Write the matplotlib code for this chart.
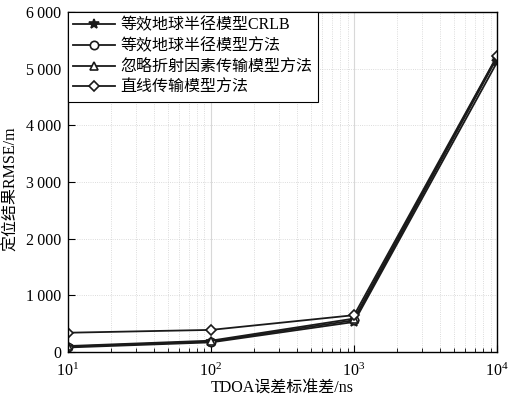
import matplotlib
matplotlib.use("Agg")
import matplotlib.pyplot as plt
from matplotlib.ticker import FuncFormatter, LogLocator, NullFormatter

plt.rcParams['font.family'] = ['Liberation Serif', 'Noto Sans CJK SC']
plt.rcParams['mathtext.fontset'] = 'custom'
plt.rcParams['mathtext.rm'] = 'Liberation Serif'

x = [10, 100, 1000, 10000]
labels = ['等效地球半径模型CRLB', '等效地球半径模型方法', '忽略折射因素传输模型方法', '直线传输模型方法']
crlb = [80, 170, 530, 5120]
equiv = [95, 185, 560, 5200]
ignore = [105, 200, 590, 5220]
straight = [340, 390, 650, 5230]
series = [crlb, equiv, ignore, straight]
markers = ['*', 'o', '^', 'D']
msizes = [7, 6, 6, 5]

fig = plt.figure(figsize=(5.1, 4.0), dpi=100)
ax = fig.add_axes([0.133, 0.12, 0.842, 0.85])

for y, lab, m, ms in zip(series, labels, markers, msizes):
    ax.plot(x, y, color='#1a1a1a', lw=1.3, marker=m, ms=ms,
            mfc='#1a1a1a' if m == '*' else 'white', mec='#1a1a1a', mew=1.2, label=lab)

ax.set_xscale('log')
ax.set_xlim(10, 10000)
ax.set_ylim(0, 6000)
ax.set_yticks([0, 1000, 2000, 3000, 4000, 5000, 6000])
ax.yaxis.set_major_formatter(FuncFormatter(lambda v, p: f"{int(v):,}".replace(',', '\u2009') if v >= 1000 else f"{int(v)}"))
ax.xaxis.set_major_locator(LogLocator(base=10, numticks=10))
ax.xaxis.set_minor_locator(LogLocator(base=10, subs=range(2, 10), numticks=20))
ax.xaxis.set_minor_formatter(NullFormatter())
ax.tick_params(direction='in', which='both', labelsize=11.5, top=False, right=False)
ax.tick_params(which='major', length=5)
ax.tick_params(which='minor', length=3)
ax.tick_params(axis='x', which='major', pad=8)
ax.tick_params(axis='y', which='major', pad=5)
ax.grid(True, which='major', color='#d8d8d8', lw=0.8, ls='-')
ax.grid(True, which='minor', axis='x', color='#d0d0d0', lw=0.6, ls=':')
ax.grid(True, which='major', axis='y', color='#d0d0d0', lw=0.6, ls=':')
for s in ax.spines.values():
    s.set_color('black')
    s.set_linewidth(1.0)

ax.set_xlabel('TDOA误差标准差/ns', fontsize=11.5, labelpad=0)
ax.set_ylabel('定位结果RMSE/m', fontsize=11.5)
ax.yaxis.set_label_coords(-0.113, 0.48)

leg = ax.legend(loc='upper left', fontsize=11.5, frameon=True, fancybox=False,
                edgecolor='black', framealpha=1, borderpad=0.35, labelspacing=0.3,
                handlelength=2.6, handletextpad=0.35, borderaxespad=0.0,
                bbox_to_anchor=(0.0, 1.0))
leg.get_frame().set_linewidth(0.8)

fig.savefig('out.png', dpi=100)
